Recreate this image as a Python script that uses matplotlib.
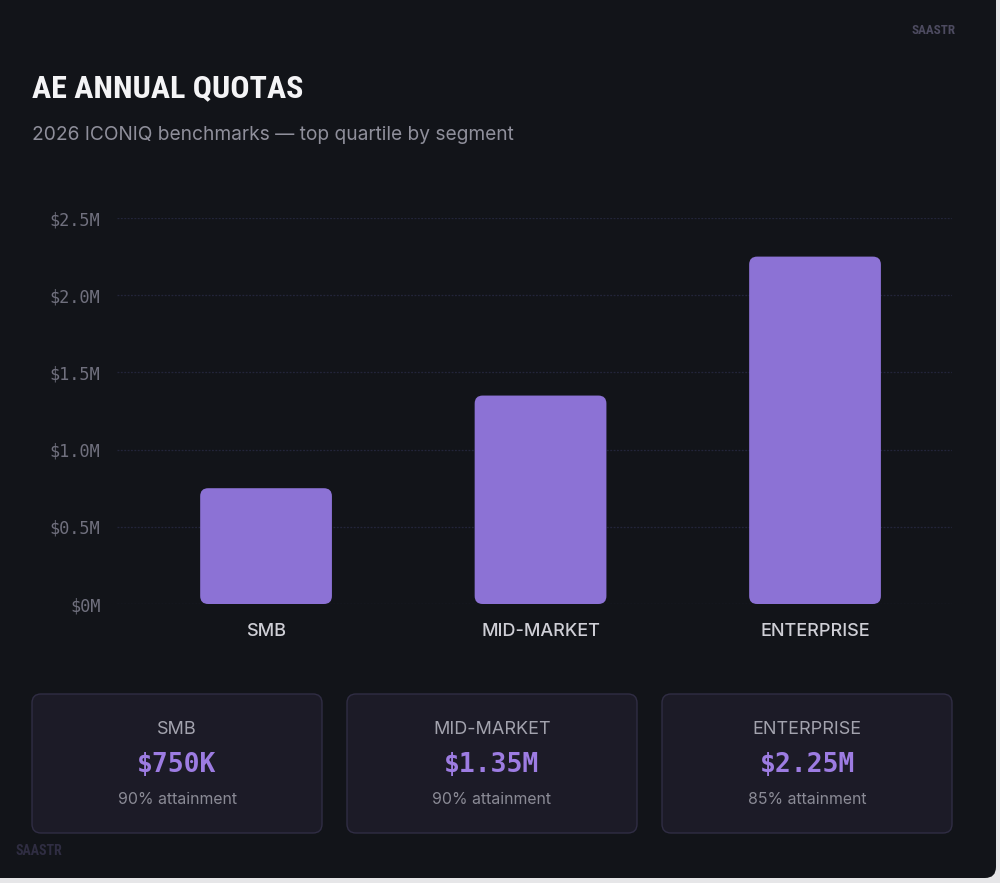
import matplotlib
matplotlib.use("Agg")
import matplotlib.pyplot as plt
from matplotlib.patches import FancyBboxPatch
from matplotlib import font_manager

# ---------------- data ----------------
segments = ["SMB", "MID-MARKET", "ENTERPRISE"]
quotas_m = [0.75, 1.35, 2.25]          # $M
value_labels = ["$750K", "$1.35M", "$2.25M"]
attainment = [90, 90, 85]              # %
yticks = [0, 0.5, 1.0, 1.5, 2.0, 2.5]
ytick_labels = ["$0M", "$0.5M", "$1.0M", "$1.5M", "$2.0M", "$2.5M"]
title = "AE ANNUAL QUOTAS"
subtitle = "2026 ICONIQ benchmarks \u2014 top quartile by segment"

# ---------------- style ----------------
W, H = 1000, 883
BG = "#121419"
OUTER = "#e6e6e8"
BAR = "#8c72d5"
VAL = "#9d7ce2"
GRID = "#23253a"
CARD_FILL = "#1c1b27"
CARD_EDGE = "#302d44"

avail = {f.name for f in font_manager.fontManager.ttflist}
cond = [f for f in ["Liberation Sans Narrow", "DejaVu Sans Condensed", "Roboto Condensed"] if f in avail]
TITLE_FONT = cond + ["DejaVu Sans"]
SANS = ["Inter", "DejaVu Sans"]
MONO = ["DejaVu Sans Mono"]

fig = plt.figure(figsize=(W / 100, H / 100), dpi=100)
fig.patch.set_facecolor(OUTER)

def fx(px):
    return px / W

def fy(py):
    return 1 - py / H

# card background (pixel coordinates)
card = FancyBboxPatch((-20, H - 878), 996 + 20, 878 + 20,
                      boxstyle="round,pad=0,rounding_size=11",
                      transform=None, facecolor=BG, edgecolor="none", zorder=-5)
fig.patches.append(card)

# title / subtitle / watermark
fig.text(fx(32), fy(88), title, family=TITLE_FONT, weight="bold", fontsize=23,
         color="#f4f4f6", va="center", ha="left")
fig.text(fx(32), fy(135), subtitle, family=SANS, fontsize=13.8,
         color="#8f8f9b", va="center", ha="left")
fig.text(fx(955), fy(30), "SAASTR", family=TITLE_FONT, weight="bold", fontsize=9.4,
         color="#4d4b60", va="center", ha="right")
fig.text(fx(15), fy(851), "SAASTR", family=TITLE_FONT, weight="bold", fontsize=10,
         color="#2f2d42", va="center", ha="left")

# ---------------- chart ----------------
ax_l, ax_r, ax_top, ax_bot = 117, 952, 218, 604
ax = fig.add_axes([fx(ax_l), fy(ax_bot), fx(ax_r - ax_l), (ax_bot - ax_top) / H])
ax.set_zorder(2)
ax.set_facecolor("none")
x = list(range(len(segments)))
xlo, xhi = -0.543, 2.499
ax.set_xlim(xlo, xhi)
ax.set_ylim(0, 2.5)

bar_w = 0.48
bars = ax.bar(x, quotas_m, width=bar_w, color=BAR, zorder=3)
# replace with rounded rectangles
px_per_x = (ax_r - ax_l) / (xhi - xlo)
px_per_y = (ax_bot - ax_top) / 2.5
r_px = 8
for b in bars:
    b.set_visible(False)
    rp = FancyBboxPatch((b.get_x(), b.get_y()), b.get_width(), b.get_height(),
                        boxstyle=f"round,pad=0,rounding_size={r_px / px_per_x}",
                        mutation_aspect=px_per_x / px_per_y,
                        facecolor=BAR, edgecolor="none", zorder=3, clip_on=False)
    ax.add_patch(rp)

ax.set_yticks(yticks)
ax.set_yticklabels(ytick_labels, family=MONO, fontsize=12.2, color="#70707e")
ax.set_xticks(x)
ax.set_xticklabels(segments, family=SANS, fontsize=13, weight="medium", color="#cfcfd6")
ax.tick_params(axis="y", length=0, pad=12)
ax.tick_params(axis="x", length=0, pad=14)
ax.grid(axis="y", color=GRID, linewidth=0.9, linestyle=(0, (1.5, 1.2)), zorder=0)
ax.grid(axis="x", visible=False)
for s in ax.spines.values():
    s.set_visible(False)

# ---------------- summary cards ----------------
card_x0 = [32, 347, 662]
card_w, card_top, card_bot = 290, 694, 833
for i, seg in enumerate(segments):
    x0 = card_x0[i]
    p = FancyBboxPatch((x0, H - card_bot), card_w, card_bot - card_top,
                       boxstyle="round,pad=0,rounding_size=9", transform=None,
                       facecolor=CARD_FILL, edgecolor=CARD_EDGE, linewidth=1, zorder=1)
    fig.patches.append(p)
    cx = fx(x0 + card_w / 2)
    fig.text(cx, fy(729), seg, family=SANS, fontsize=13, color="#a3a3ae",
             ha="center", va="center")
    fig.text(cx, fy(765), value_labels[i], family=MONO, weight="bold", fontsize=19,
             color=VAL, ha="center", va="center")
    fig.text(cx, fy(800), f"{attainment[i]}% attainment", family=SANS, fontsize=11.4,
             color="#8b8b96", ha="center", va="center")

fig.savefig("out.png", dpi=100, facecolor=fig.get_facecolor())
